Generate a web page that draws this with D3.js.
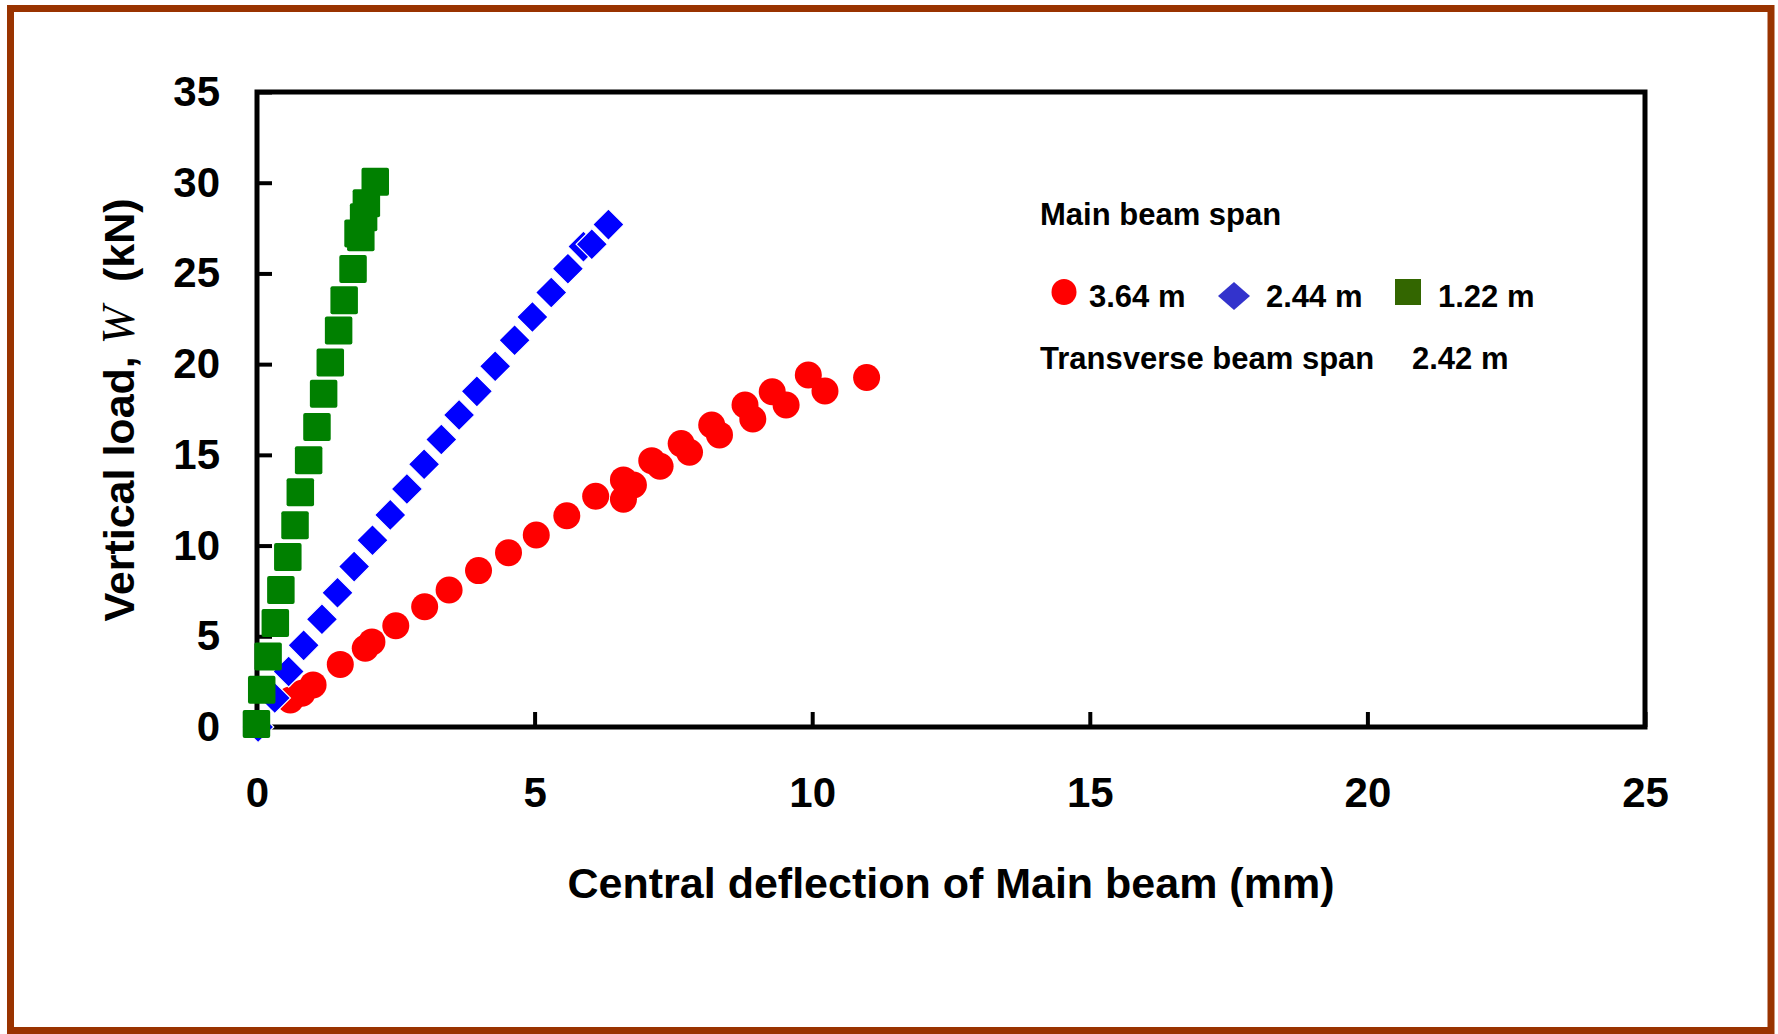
<!DOCTYPE html>
<html>
<head>
<meta charset="utf-8">
<script src="https://cdn.jsdelivr.net/npm/d3@7"></script>
<style>
  html, body { margin: 0; padding: 0; background: #fff; }
  svg { display: block; }
  text { font-family: "Liberation Sans", Arial, sans-serif; font-weight: bold; fill: #000; }
</style>
</head>
<body>
<svg id="chart"></svg>
<script>
// Main beam span 3.64 m (red circles)
const redX = [0.60, 0.81, 1.01, 1.50, 1.95, 2.07, 2.50, 3.02, 3.46, 3.99, 4.53, 5.03, 5.58, 6.10, 6.60, 6.60, 6.78, 7.11, 7.26, 7.64, 7.79, 8.19, 8.33, 8.79, 8.93, 9.28, 9.53, 9.93, 10.23, 10.98];
const redY = [1.49, 1.86, 2.32, 3.45, 4.34, 4.69, 5.58, 6.63, 7.55, 8.62, 9.60, 10.58, 11.64, 12.72, 13.62, 12.55, 13.34, 14.68, 14.37, 15.62, 15.14, 16.65, 16.10, 17.75, 16.98, 18.48, 17.75, 19.40, 18.52, 19.26];

// Main beam span 2.44 m (blue diamonds)
const blueX = [0.02, 0.32, 0.57, 0.84, 1.17, 1.45, 1.75, 2.08, 2.40, 2.70, 3.01, 3.32, 3.64, 3.96, 4.29, 4.64, 4.96, 5.30, 5.60, 5.88, 6.03, 6.33];
const blueY = [0.00, 1.60, 3.06, 4.50, 5.94, 7.40, 8.84, 10.29, 11.69, 13.12, 14.48, 15.85, 17.20, 18.50, 19.88, 21.32, 22.60, 23.95, 25.26, 26.48, 26.61, 27.69];

// Main beam span 1.22 m (green squares)
const greenX = [-0.01, 0.085, 0.20, 0.33, 0.43, 0.555, 0.685, 0.78, 0.93, 1.08, 1.20, 1.32, 1.47, 1.57, 1.73, 1.82, 1.87, 1.92, 1.97, 2.13];
const greenY = [0.16, 2.05, 3.89, 5.73, 7.55, 9.37, 11.12, 12.94, 14.70, 16.53, 18.37, 20.09, 21.85, 23.52, 25.25, 27.20, 27.00, 28.10, 28.87, 30.06];

// Assi
const xTicks = [0, 5, 10, 15, 20, 25];
const yTicks = [0, 5, 10, 15, 20, 25, 30, 35];
const legendLabels = ["3.64 m", "2.44 m", "1.22 m"];

const width = 1778;
const height = 1034;
const plot = { left: 257, right: 1645, top: 92, bottom: 727 };

const svg = d3.select("#chart")
    .attr("width", width)
    .attr("height", height);

// Cornice marrone esterna
svg.append("rect")
    .attr("x", 10.5).attr("y", 8.5)
    .attr("width", 1760.5).attr("height", 1022)
    .attr("fill", "#fff")
    .attr("stroke", "#993300")
    .attr("stroke-width", 7);

const x = d3.scaleLinear().domain([0, 25]).range([plot.left, plot.right]);
const y = d3.scaleLinear().domain([0, 35]).range([plot.bottom, plot.top]);

// Asse Y
const yAxis = svg.append("g")
    .attr("transform", `translate(${plot.left},0)`)
    .call(d3.axisLeft(y).tickValues(yTicks).tickSize(-15).tickPadding(37));
yAxis.select(".domain").remove();
yAxis.selectAll("line").attr("stroke", "#000").attr("stroke-width", 4);
yAxis.selectAll("text")
    .attr("fill", "#000")
    .style("font-size", "42px")
    .style("font-family", "'Liberation Sans', Arial, sans-serif")
    .style("font-weight", "bold");

// Asse X
const xAxis = svg.append("g")
    .attr("transform", `translate(0,${plot.bottom})`)
    .call(d3.axisBottom(x).tickValues(xTicks).tickSize(-15).tickPadding(50));
xAxis.select(".domain").remove();
xAxis.selectAll("line").attr("stroke", "#000").attr("stroke-width", 4);
xAxis.selectAll("text")
    .attr("fill", "#000")
    .style("font-size", "42px")
    .style("font-family", "'Liberation Sans', Arial, sans-serif")
    .style("font-weight", "bold");

// Riquadro dell'area del grafico
svg.append("rect")
    .attr("x", plot.left).attr("y", plot.top)
    .attr("width", plot.right - plot.left)
    .attr("height", plot.bottom - plot.top)
    .attr("fill", "none")
    .attr("stroke", "#000")
    .attr("stroke-width", 5);

// Serie rossa
svg.append("g").selectAll("circle")
    .data(d3.zip(redX, redY))
    .enter().append("circle")
    .attr("cx", d => x(d[0]))
    .attr("cy", d => y(d[1]))
    .attr("r", 13.5)
    .attr("fill", "#ff0000");

// Serie blu
svg.append("g").selectAll("path")
    .data(d3.zip(blueX, blueY))
    .enter().append("path")
    .attr("d", d3.symbol(d3.symbolSquare, 490))
    .attr("transform", d => `translate(${x(d[0])},${y(d[1])}) rotate(45)`)
    .attr("fill", "#0000ff")
    .attr("stroke", "#fff")
    .attr("stroke-width", 1.2);

// Serie verde
svg.append("g").selectAll("rect")
    .data(d3.zip(greenX, greenY))
    .enter().append("rect")
    .attr("x", d => x(d[0]) - 13.75)
    .attr("y", d => y(d[1]) - 14)
    .attr("width", 27.5)
    .attr("height", 28)
    .attr("rx", 2)
    .attr("fill", "#008000");

// Titoli degli assi
svg.append("text")
    .attr("x", (plot.left + plot.right) / 2)
    .attr("y", 898)
    .attr("text-anchor", "middle")
    .style("font-size", "43px")
    .text("Central deflection of Main beam (mm)");

const yTitle = svg.append("text")
    .attr("transform", "translate(134,410) rotate(-90)")
    .attr("text-anchor", "middle")
    .style("font-size", "43px");
yTitle.append("tspan").text("Vertical load, ");
yTitle.append("tspan")
    .style("font-family", "'Liberation Serif', 'Times New Roman', serif")
    .style("font-style", "italic")
    .style("font-weight", "normal")
    .style("font-size", "46px")
    .text("W");
yTitle.append("tspan").attr("xml:space", "preserve").text("  (kN)");

// Legenda
svg.append("text")
    .attr("x", 1040).attr("y", 225)
    .style("font-size", "31px")
    .text("Main beam span");

svg.append("ellipse")
    .attr("cx", 1064).attr("cy", 292)
    .attr("rx", 12.5).attr("ry", 13)
    .attr("fill", "#ff0000");
svg.append("path")
    .attr("d", "M1234,282 L1250,296 L1234,310 L1218,296 Z")
    .attr("fill", "#3333cc");
svg.append("rect")
    .attr("x", 1395).attr("y", 279)
    .attr("width", 26).attr("height", 26)
    .attr("fill", "#336600");

svg.selectAll(".legend-label")
    .data(legendLabels)
    .enter().append("text")
    .attr("class", "legend-label")
    .attr("x", (d, i) => [1089, 1266, 1438][i])
    .attr("y", 307)
    .style("font-size", "31px")
    .text(d => d);

svg.append("text")
    .attr("x", 1040).attr("y", 369)
    .style("font-size", "31px")
    .text("Transverse beam span");
svg.append("text")
    .attr("x", 1412).attr("y", 369)
    .style("font-size", "31px")
    .text("2.42 m");
</script>
</body>
</html>
